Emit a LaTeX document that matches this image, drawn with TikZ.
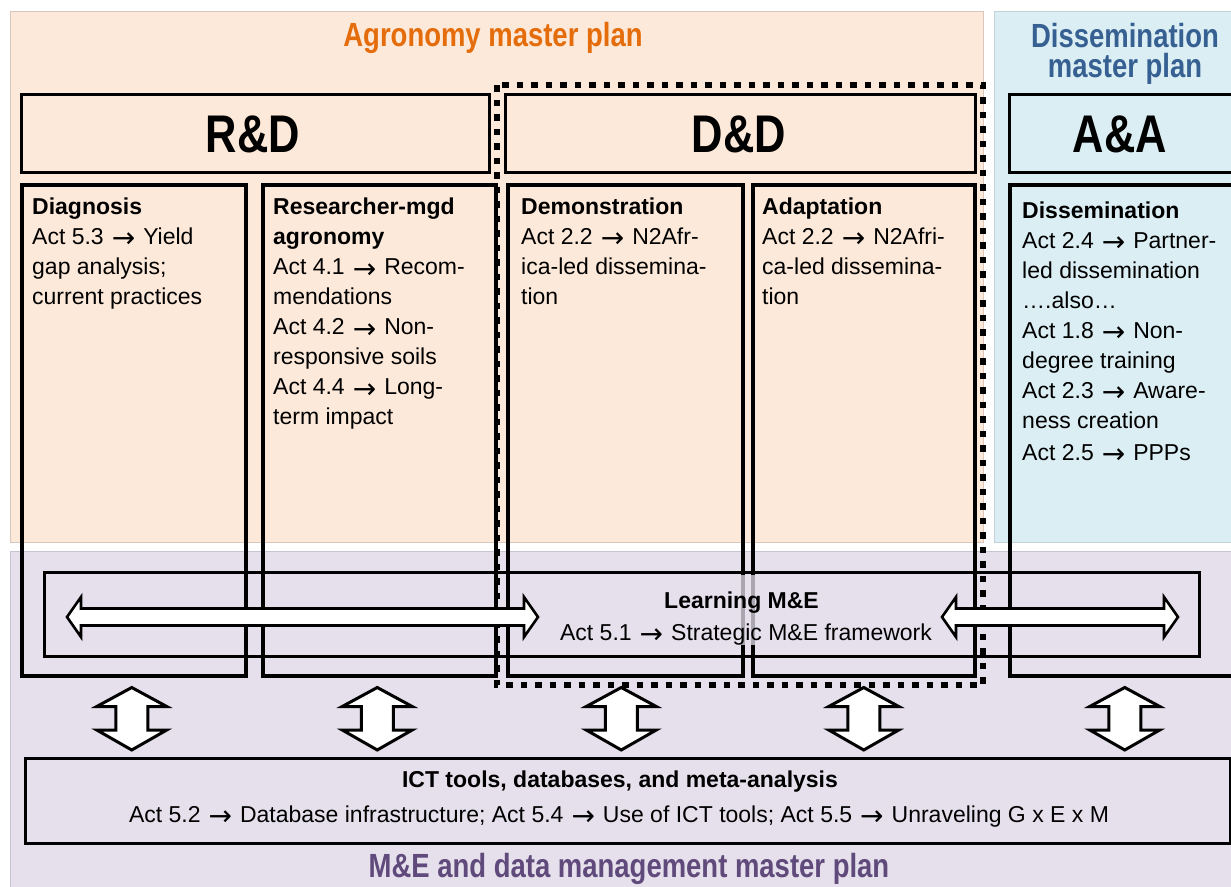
\documentclass[tikz,border=0pt]{standalone}
\usepackage{fontspec}
\setmainfont{Liberation Sans}
\newfontfamily\narrowfont{Liberation Sans}[FakeStretch=0.82]
\newfontfamily\arrowfont{DejaVu Sans}
\newcommand{\rarr}{\hspace{8pt}\raisebox{-3.5pt}{\arrowfont\fontsize{28}{30}\selectfont →}\hspace{8pt}}
\usetikzlibrary{calc}
\definecolor{peach}{HTML}{FDE9D9}
\definecolor{peachline}{HTML}{D9C7BD}
\definecolor{skyb}{HTML}{DBEEF3}
\definecolor{skyline}{HTML}{C2D2D8}
\definecolor{lav}{HTML}{E5E0EC}
\definecolor{lavline}{HTML}{C9C2D2}
\definecolor{agroorange}{HTML}{E46C0A}
\definecolor{dissblue}{HTML}{376092}
\definecolor{mepurple}{HTML}{604A7B}
\tikzset{
  region/.style={line width=1pt},
  hdrbox/.style={draw=black, line width=2.5pt, inner sep=0pt, anchor=north west},
  colbox/.style={draw=black, line width=3.5pt, inner sep=0pt, anchor=north west},
  widebox/.style={draw=black, line width=3.3pt, inner sep=0pt, anchor=north west},
  hdrtext/.style={font=\narrowfont\bfseries\fontsize{53}{60}\selectfont, inner sep=0pt, anchor=base},
  titletext/.style={font=\narrowfont\bfseries\fontsize{33.5}{30.5}\selectfont, inner sep=0pt, anchor=base},
  coltext/.style={font=\fontsize{23}{30}\selectfont, inner sep=0pt, anchor=base west},
  bodytext/.style={font=\fontsize{23}{30}\selectfont, inner sep=0pt, anchor=base},
  blockarrow/.style={draw=black, fill=white, line width=2.6pt, line join=miter},
  dotbox/.style={draw=black, line width=6.5pt, dash pattern=on 6.5pt off 8pt}
}
\newcommand{\vdblarrow}[2]{%
  \draw[blockarrow, line width=3pt] let \p1=(#1), \p2=(#2) in
  (\x1,\y1) -- (\x1+35pt,\y1-19pt) -- (\x1+16pt,\y1-19pt) -- (\x1+16pt,\y2+20pt)
  -- (\x1+35pt,\y2+20pt) -- (\x1,\y2) -- (\x1-35pt,\y2+20pt) -- (\x1-16pt,\y2+20pt)
  -- (\x1-16pt,\y1-19pt) -- (\x1-35pt,\y1-19pt) -- cycle;}
\newcommand{\hdblarrow}[2]{%
  \draw[blockarrow] let \p1=(#1), \p2=(#2) in
  (\x1,\y1) -- (\x1+14pt,\y1+20pt) -- (\x1+14pt,\y1+8.5pt) -- (\x2-14pt,\y1+8.5pt)
  -- (\x2-14pt,\y1+20pt) -- (\x2,\y1) -- (\x2-14pt,\y1-20pt) -- (\x2-14pt,\y1-8.5pt)
  -- (\x1+14pt,\y1-8.5pt) -- (\x1+14pt,\y1-20pt) -- cycle;}
\begin{document}
\begin{tikzpicture}[x=1pt,y=-1pt]
\useasboundingbox (0,0) rectangle (1231,886);
\fill[white] (0,0) rectangle (1231,886);
% regions
\draw[region, fill=peach, draw=peachline] (10,11) rectangle (983,542);
\draw[region, fill=skyb, draw=skyline] (994,11) rectangle (1236,542);
\draw[region, fill=lav, draw=lavline] (10,551) rectangle (1236,890);
% titles
\node[titletext, text=agroorange] (agrotitle) at (493,46) {Agronomy master plan};
\node[titletext, text=dissblue] (disstitle) at (1125,47) {\parbox[t]{220pt}{\centering Dissemination\\master plan}};
\node[titletext, text=mepurple] (metitle) at (629,877) {M\&E and data management master plan};
% header boxes
\node[hdrbox, minimum width=468pt, minimum height=78pt] (rd) at (20,93) {};
\node[hdrbox, minimum width=470pt, minimum height=78pt] (dd) at (504,93) {};
\node[hdrbox, minimum width=240pt, minimum height=78pt] (aa) at (1008,93) {};
\node[hdrtext] (rdt) at (253,152) {R\&D};
\node[hdrtext] (ddt) at (739,152) {D\&D};
\node[hdrtext] (aat) at (1120,152) {A\&A};
% column boxes
\node[colbox, minimum width=224pt, minimum height=491pt] (diag) at (20,183) {};
\node[colbox, minimum width=233pt, minimum height=491pt] (res) at (261,183) {};
\node[colbox, minimum width=235pt, minimum height=491pt] (dem) at (506,183) {};
\node[colbox, minimum width=222pt, minimum height=491pt] (ada) at (751,183) {};
\node[colbox, minimum width=232pt, minimum height=491pt] (dis) at (1008,183) {};
% column texts
\node[coltext] (diagt) at (32,214) {\parbox[t]{205pt}{\raggedright\textbf{Diagnosis}\\Act 5.3\rarr Yield\\gap analysis;\\current practices}};
\node[coltext] (rest) at (273,214.5) {\parbox[t]{215pt}{\raggedright\textbf{Researcher-mgd}\\\textbf{agronomy}\\Act 4.1\rarr Recom-\\mendations\\Act 4.2\rarr Non-\\responsive soils\\Act 4.4\rarr Long-\\term impact}};
\node[coltext] (demt) at (521,214) {\parbox[t]{215pt}{\raggedright\textbf{Demonstration}\\Act 2.2\rarr N2Afr-\\ica-led dissemina-\\tion}};
\node[coltext] (adat) at (762,214) {\parbox[t]{205pt}{\raggedright\textbf{Adaptation}\\Act 2.2\rarr N2Afri-\\ca-led dissemina-\\tion}};
\node[coltext] (dist) at (1022,218) {\parbox[t]{205pt}{\raggedright\textbf{Dissemination}\\Act 2.4\rarr Partner-\\led dissemination\\….also…\\Act 1.8\rarr Non-\\degree training\\Act 2.3\rarr Aware-\\ness creation\\[2pt]Act 2.5\rarr PPPs}};
% learning box and ICT box
\node[widebox, minimum width=1155pt, minimum height=84pt] (lme) at (43,571) {};
\node[widebox, minimum width=1205pt, minimum height=85pt] (ict) at (24,757) {};
% dotted D&D frame
\draw[dotbox] (497,85) rectangle (983,685);
% horizontal double arrows
\coordinate (la) at (67,617);
\coordinate (lb) at (538,617);
\coordinate (ra) at (942,617);
\coordinate (rb) at (1178,617);
\hdblarrow{la}{lb}
\hdblarrow{ra}{rb}
% learning text
\node[fill=lav, fill opacity=0.75, text opacity=1, minimum height=70pt, minimum width=150pt, inner sep=0pt] (lmebg) at (741,610) {};
\node[bodytext, font=\bfseries\fontsize{23}{30}\selectfont] (lmet1) at (741.5,608) {Learning M\&E};
\node[bodytext] (lmet2) at (746,640) {Act 5.1\rarr Strategic M\&E framework};
% ICT text
\node[bodytext, font=\bfseries\fontsize{23}{30}\selectfont] (ictt1) at (620,787) {ICT tools, databases, and meta-analysis};
\node[bodytext] (ictt2) at (619,822) {Act 5.2\rarr Database infrastructure; Act 5.4\rarr Use of ICT tools; Act 5.5\rarr Unraveling G x E x M};
% vertical double arrows
\vdblarrow{$(diag.south)+(-2,10)$}{$(diag.south |- ict.north)+(-2,-7)$}
\vdblarrow{$(res.south)+(-2,10)$}{$(res.south |- ict.north)+(-2,-7)$}
\vdblarrow{$(dem.south)+(-4,10)$}{$(dem.south |- ict.north)+(-4,-7)$}
\vdblarrow{$(ada.south)+(0,10)$}{$(ada.south |- ict.north)+(0,-7)$}
\vdblarrow{$(dis.south)+(-1,10)$}{$(dis.south |- ict.north)+(-1,-7)$}
\end{tikzpicture}
\end{document}
